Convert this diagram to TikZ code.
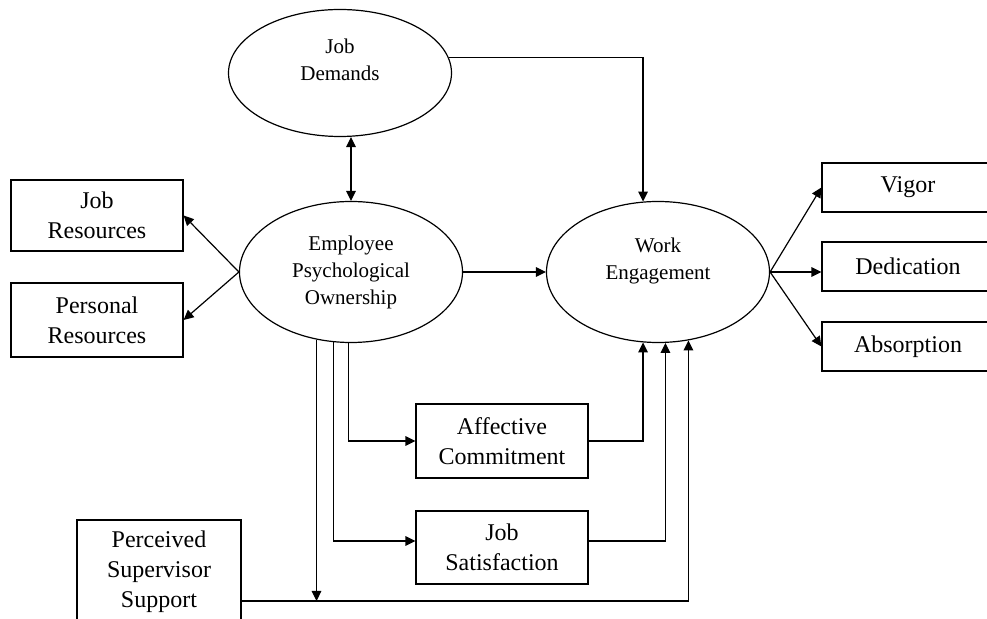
\documentclass[tikz,border=0pt]{standalone}
\usepackage{fontspec}
\setmainfont{Liberation Serif}
\usetikzlibrary{shapes.geometric,arrows.meta}
\begin{document}
\begin{tikzpicture}[x=0.5pt,y=-0.5pt,line width=0.6pt,
    >={Triangle[length=5pt,width=4.8pt]},
    latent/.style={draw,ellipse,inner sep=0pt,minimum width=111.5pt,minimum height=70.5pt,
      align=center,font=\fontsize{10.5}{13.5}\selectfont},
    measure/.style={draw,rectangle,inner sep=2pt,minimum width=86pt,minimum height=36pt,
      align=center,font=\fontsize{12}{15}\selectfont}]
  \useasboundingbox (0,0) rectangle (987,619);
  % latent constructs
  \node[latent,minimum height=63.5pt] (JD) at (340,73) {Job\\Demands\\\mbox{}};
  \node[latent] (EPO) at (351,272) {Employee\\Psychological\\Ownership};
  \node[latent] (WE) at (658,272) {Work\\Engagement\\\mbox{}};
  % boxes
  \node[measure,minimum height=35.5pt] (JR) at (97,215.5) {Job\\Resources};
  \node[measure,minimum height=37pt] (PR) at (97,320) {Personal\\Resources};
  \node[measure,minimum height=37pt] (AC) at (502,441) {Affective\\Commitment};
  \node[measure,minimum height=36.5pt] (JS) at (502,547.5) {Job\\Satisfaction};
  \node[measure,minimum width=82pt,minimum height=52pt] (PSS) at (159,572) {Perceived\\Supervisor\\Support};
  \node[measure,minimum height=24.5pt] (VI) at (908,187.5) {Vigor};
  \node[measure,minimum height=24.5pt] (DE) at (908,266.5) {Dedication};
  \node[measure,minimum height=24.5pt] (AB) at (908,346.5) {Absorption};
  \coordinate (bus) at (317,601);
  % paths
  \draw[<->] (JD.south -| EPO.north) -- (EPO.north);
  \draw[->] (JD.8) -| (WE.102);
  \draw[->] (EPO.west) -- (JR.east);
  \draw[->] (EPO.west) -- (PR.east);
  \draw[->] (EPO.east) -- (WE.west);
  \draw[->] (WE.east) -- (VI.west);
  \draw[->] (WE.east) -- (WE.east -| DE.west);
  \draw[->] (WE.east) -- (AB.west);
  \draw[->] (EPO.268) |- (AC.west);
  \draw[->] (EPO.256) |- ([yshift=3.25pt]JS.west);
  \draw[->] (EPO.243) -- (EPO.243 |- bus);
  \draw[->] (AC.east) -| (WE.258);
  \draw[->] ([yshift=3.25pt]JS.east) -| (WE.276);
  \draw[->] (PSS.east |- bus) -| (WE.294);
\end{tikzpicture}
\end{document}
